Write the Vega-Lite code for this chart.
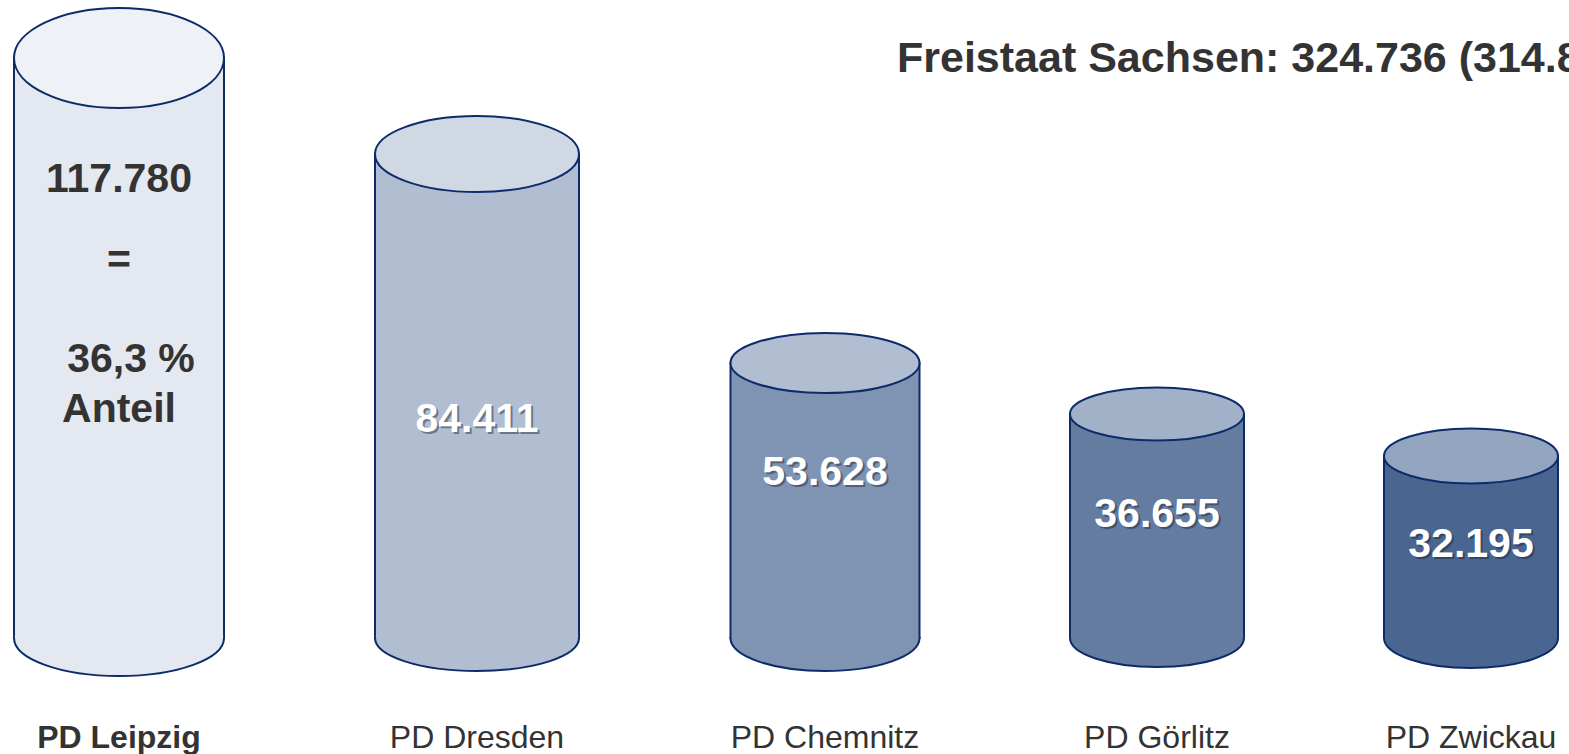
{
  "$schema": "https://vega.github.io/schema/vega-lite/v6.json",
  "width": 1569,
  "height": 754,
  "padding": 0,
  "autosize": {"type": "none"},
  "background": "white",
  "title": {
    "text": "Freistaat Sachsen: 324.736 (314.8",
    "anchor": "start",
    "frame": "group",
    "dx": 897,
    "dy": 115,
    "offset": 0,
    "font": "Liberation Sans",
    "fontSize": 43,
    "fontWeight": "bold",
    "color": "#333333",
    "baseline": "alphabetic"
  },
  "config": {
    "view": {"stroke": null},
    "locale": {"number": {"decimal": ",", "thousands": ".", "grouping": [3], "currency": ["", " €"]}}
  },
  "data": {
    "values": [
      {"Region": "PD Leipzig", "Rang": 1, "Anzahl": 117780},
      {"Region": "PD Dresden", "Rang": 2, "Anzahl": 84411},
      {"Region": "PD Chemnitz", "Rang": 3, "Anzahl": 53628},
      {"Region": "PD Görlitz", "Rang": 4, "Anzahl": 36655},
      {"Region": "PD Zwickau", "Rang": 5, "Anzahl": 32195}
    ]
  },
  "resolve": {"scale": {"fill": "independent", "shape": "independent", "y": "independent", "size": "independent", "color": "independent"}},
  "layer": [
    {
      "mark": {"type": "bar", "stroke": "#0d2b6b", "strokeWidth": 2, "opacity": 1},
      "encoding": {
        "x": {"field": "Rang", "type": "quantitative", "axis": null, "scale": {"type": "linear", "domain": [1, 2, 3, 4, 5], "range": [119, 477, 825, 1157, 1471], "nice": false, "zero": false, "padding": 0}},
        "y": {"field": "Anzahl", "type": "quantitative", "axis": null, "scale": {"type": "linear", "domain": [0, 32195, 36655, 53628, 84411, 117780], "range": [638, 456, 414, 363, 154, 58], "nice": false, "zero": false}},
        "y2": {"datum": 0},
        "size": {"field": "Rang", "type": "quantitative", "legend": null, "scale": {"type": "linear", "domain": [1, 2, 3, 4, 5], "range": [210, 204, 189, 174, 174], "zero": false, "nice": false}},
        "fill": {"field": "Region", "type": "nominal", "legend": null, "scale": {"domain": ["PD Leipzig", "PD Dresden", "PD Chemnitz", "PD Görlitz", "PD Zwickau"], "range": ["#e4e8f0", "#b1bdd0", "#7f93b3", "#647ca0", "#4a6590"]}}
      }
    },
    {
      "mark": {"type": "point", "filled": true, "size": 4, "stroke": "#0d2b6b", "strokeWidth": 2, "opacity": 1, "fillOpacity": 1, "strokeOpacity": 1},
      "encoding": {
        "x": {"field": "Rang", "type": "quantitative", "axis": null},
        "y": {"datum": 0, "type": "quantitative", "axis": null, "scale": {"type": "linear", "domain": [0, 32195, 36655, 53628, 84411, 117780], "range": [638, 456, 414, 363, 154, 58], "nice": false, "zero": false}},
        "shape": {"field": "Region", "type": "nominal", "legend": null, "scale": {"domain": ["PD Leipzig", "PD Dresden", "PD Chemnitz", "PD Görlitz", "PD Zwickau"], "range": [
          "M -105 -1.5 L -105 0 A 105 38 0 0 0 105 0 L 105 -1.5",
          "M -102 -1.5 L -102 0 A 102 33 0 0 0 102 0 L 102 -1.5",
          "M -94.5 -1.5 L -94.5 0 A 94.5 33 0 0 0 94.5 0 L 94.5 -1.5",
          "M -87 -1.5 L -87 0 A 87 29 0 0 0 87 0 L 87 -1.5",
          "M -87 -1.5 L -87 0 A 87 30 0 0 0 87 0 L 87 -1.5"
        ]}},
        "fill": {"field": "Region", "type": "nominal", "legend": null, "scale": {"domain": ["PD Leipzig", "PD Dresden", "PD Chemnitz", "PD Görlitz", "PD Zwickau"], "range": ["#e4e8f0", "#b1bdd0", "#7f93b3", "#647ca0", "#4a6590"]}}
      }
    },
    {
      "mark": {"type": "point", "filled": true, "size": 4, "stroke": "#0d2b6b", "strokeWidth": 2, "opacity": 1, "fillOpacity": 1, "strokeOpacity": 1},
      "encoding": {
        "x": {"field": "Rang", "type": "quantitative", "axis": null},
        "y": {"field": "Anzahl", "type": "quantitative", "axis": null, "scale": {"type": "linear", "domain": [0, 32195, 36655, 53628, 84411, 117780], "range": [638, 456, 414, 363, 154, 58], "nice": false, "zero": false}},
        "shape": {"field": "Region", "type": "nominal", "legend": null, "scale": {"domain": ["PD Leipzig", "PD Dresden", "PD Chemnitz", "PD Görlitz", "PD Zwickau"], "range": [
          "M -105 0 A 105 50 0 1 1 105 0 A 105 50 0 1 1 -105 0 Z",
          "M -102 0 A 102 38 0 1 1 102 0 A 102 38 0 1 1 -102 0 Z",
          "M -94.5 0 A 94.5 30 0 1 1 94.5 0 A 94.5 30 0 1 1 -94.5 0 Z",
          "M -87 0 A 87 26.5 0 1 1 87 0 A 87 26.5 0 1 1 -87 0 Z",
          "M -87 0 A 87 27.5 0 1 1 87 0 A 87 27.5 0 1 1 -87 0 Z"
        ]}},
        "fill": {"field": "Region", "type": "nominal", "legend": null, "scale": {"domain": ["PD Leipzig", "PD Dresden", "PD Chemnitz", "PD Görlitz", "PD Zwickau"], "range": ["#eef1f5", "#d0d8e4", "#b1bdd0", "#a1b1c8", "#93a5bf"]}}
      }
    },
    {
      "transform": [{"filter": "datum.Rang > 1"}],
      "mark": {"type": "text", "font": "Liberation Sans", "fontSize": 41, "fontWeight": "bold", "baseline": "alphabetic", "align": "center", "dx": 2, "dy": 2, "fill": "#1a2233", "opacity": 0.45},
      "encoding": {
        "x": {"field": "Rang", "type": "quantitative", "axis": null},
        "y": {"field": "Anzahl", "type": "quantitative", "axis": null, "scale": {"type": "linear", "domain": [32195, 36655, 53628, 84411, 117780], "range": [557, 527, 485, 432, 192], "nice": false, "zero": false}},
        "text": {"field": "Anzahl", "type": "quantitative", "format": ",d"}
      }
    },
    {
      "mark": {"type": "text", "font": "Liberation Sans", "fontSize": 41, "fontWeight": "bold", "baseline": "alphabetic", "align": "center"},
      "encoding": {
        "x": {"field": "Rang", "type": "quantitative", "axis": null},
        "y": {"field": "Anzahl", "type": "quantitative", "axis": null, "scale": {"type": "linear", "domain": [32195, 36655, 53628, 84411, 117780], "range": [557, 527, 485, 432, 192], "nice": false, "zero": false}},
        "text": {"field": "Anzahl", "type": "quantitative", "format": ",d"},
        "color": {"condition": {"test": "datum.Rang == 1", "value": "#333333"}, "value": "#ffffff"}
      }
    },
    {
      "data": {"values": [
        {"Zeile": 2, "Text": "="},
        {"Zeile": 3, "Text": "36,3 %"},
        {"Zeile": 4, "Text": "Anteil"}
      ]},
      "mark": {"type": "text", "font": "Liberation Sans", "fontSize": 41, "fontWeight": "bold", "baseline": "alphabetic", "align": "center", "fill": "#333333", "dx": {"expr": "datum.Zeile == 3 ? 12 : 0"}},
      "encoding": {
        "x": {"datum": 1, "type": "quantitative", "axis": null},
        "y": {"field": "Zeile", "type": "quantitative", "axis": null, "scale": {"type": "linear", "domain": [2, 3, 4], "range": [273, 372, 422], "nice": false, "zero": false}},
        "text": {"field": "Text", "type": "nominal"}
      }
    },
    {
      "mark": {"type": "text", "font": "Liberation Sans", "fontSize": 32, "baseline": "alphabetic", "align": "center", "fill": "#333333", "y": {"expr": "height - 6"}, "fontWeight": {"expr": "datum.Rang == 1 ? 'bold' : 'normal'"}},
      "encoding": {
        "x": {"field": "Rang", "type": "quantitative", "axis": null},
        "text": {"field": "Region", "type": "nominal"}
      }
    }
  ]
}
